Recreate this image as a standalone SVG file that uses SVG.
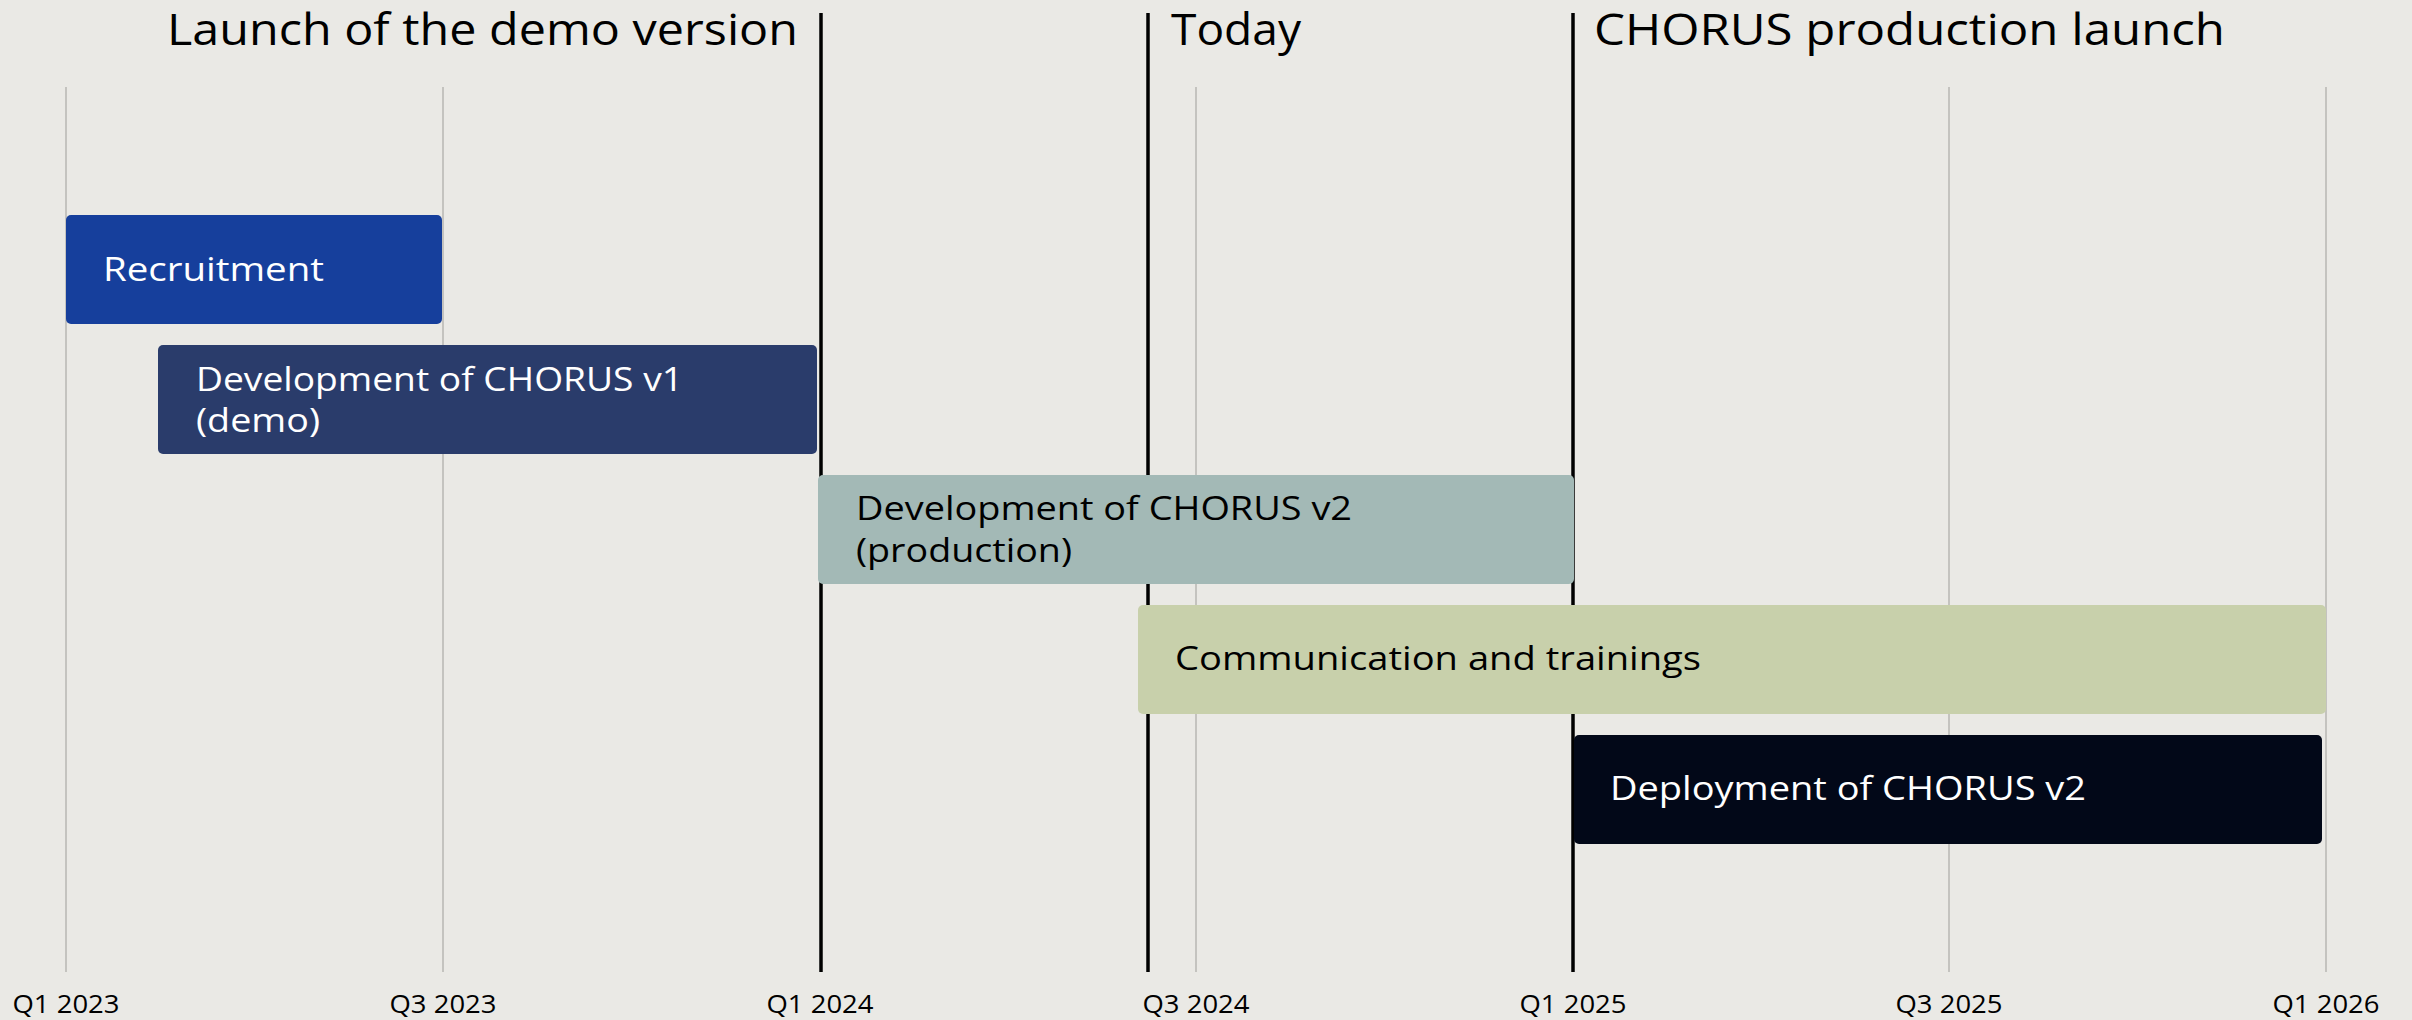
<svg xmlns="http://www.w3.org/2000/svg" width="2412" height="1020" viewBox="0 0 2412 1020">
<style>
text{font-family:"Open Sans","Liberation Sans",sans-serif;}
.grid{stroke:#c4c3bf;stroke-width:2;}
.mile{stroke:#000;stroke-width:3.5;}
.title{font-size:43px;fill:#000;}
.lbl{font-size:33px;}
.axis{font-size:26px;fill:#000;text-anchor:middle;}
.w{fill:#fff;}
.k{fill:#000;}
</style>
<rect width="2412" height="1020" fill="#eae9e5"/>
<g id="grid">
<line class="grid" x1="66" y1="87" x2="66" y2="972"/>
<line class="grid" x1="443" y1="87" x2="443" y2="972"/>
<line class="grid" x1="1196" y1="87" x2="1196" y2="972"/>
<line class="grid" x1="1949" y1="87" x2="1949" y2="972"/>
<line class="grid" x1="2326" y1="87" x2="2326" y2="972"/>
</g>
<g id="milestones">
<line class="mile" x1="821" y1="13" x2="821" y2="972"/>
<line class="mile" x1="1148" y1="13" x2="1148" y2="972"/>
<line class="mile" x1="1573" y1="13" x2="1573" y2="972"/>
<text class="title" x="798" y="45" text-anchor="end" textLength="631" lengthAdjust="spacingAndGlyphs">Launch of the demo version</text>
<text class="title" x="1171" y="45" textLength="130" lengthAdjust="spacingAndGlyphs">Today</text>
<text class="title" x="1594" y="45" textLength="631" lengthAdjust="spacingAndGlyphs">CHORUS production launch</text>
</g>
<g id="recruitment">
<rect x="66" y="215" width="376" height="109" rx="5" fill="#163f9c"/>
<text class="lbl w" x="103" y="281" textLength="221" lengthAdjust="spacingAndGlyphs">Recruitment</text>
</g>
<g id="dev-v1">
<rect x="158" y="345" width="659" height="109" rx="5" fill="#2a3c6b"/>
<text class="lbl w" x="196" y="391" textLength="487" lengthAdjust="spacingAndGlyphs">Development of CHORUS v1</text>
<text class="lbl w" x="196" y="432" textLength="124" lengthAdjust="spacingAndGlyphs">(demo)</text>
</g>
<g id="dev-v2">
<rect x="818" y="475" width="756" height="109" rx="5" fill="#a3b9b6"/>
<text class="lbl k" x="856" y="520" textLength="496" lengthAdjust="spacingAndGlyphs">Development of CHORUS v2</text>
<text class="lbl k" x="856" y="562" textLength="216" lengthAdjust="spacingAndGlyphs">(production)</text>
</g>
<g id="communication">
<rect x="1138" y="605" width="1188" height="109" rx="5" fill="#c8d0ab"/>
<text class="lbl k" x="1175" y="670" textLength="526" lengthAdjust="spacingAndGlyphs">Communication and trainings</text>
</g>
<g id="deployment">
<rect x="1574" y="735" width="748" height="109" rx="5" fill="#020818"/>
<text class="lbl w" x="1610" y="800" textLength="476" lengthAdjust="spacingAndGlyphs">Deployment of CHORUS v2</text>
</g>
<g id="axis">
<text class="axis" x="66" y="1013" textLength="107" lengthAdjust="spacingAndGlyphs">Q1 2023</text>
<text class="axis" x="443" y="1013" textLength="107" lengthAdjust="spacingAndGlyphs">Q3 2023</text>
<text class="axis" x="820" y="1013" textLength="107" lengthAdjust="spacingAndGlyphs">Q1 2024</text>
<text class="axis" x="1196" y="1013" textLength="107" lengthAdjust="spacingAndGlyphs">Q3 2024</text>
<text class="axis" x="1573" y="1013" textLength="107" lengthAdjust="spacingAndGlyphs">Q1 2025</text>
<text class="axis" x="1949" y="1013" textLength="107" lengthAdjust="spacingAndGlyphs">Q3 2025</text>
<text class="axis" x="2326" y="1013" textLength="107" lengthAdjust="spacingAndGlyphs">Q1 2026</text>
</g>
</svg>
